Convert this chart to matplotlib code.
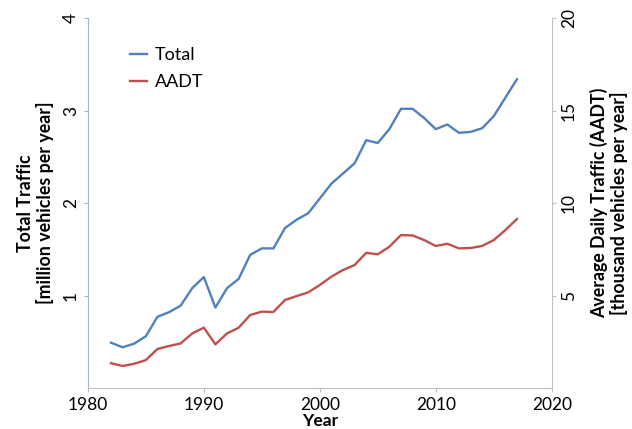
import matplotlib
matplotlib.use('Agg')
import matplotlib.pyplot as plt

# yearly series, 1982-2017
years = list(range(1982, 2018))
total_traffic = [0.49, 0.44, 0.48, 0.56, 0.77, 0.82, 0.89, 1.08, 1.20, 0.87,
                 1.08, 1.18, 1.44, 1.51, 1.51, 1.73, 1.82, 1.89, 2.05, 2.21,
                 2.32, 2.43, 2.68, 2.65, 2.80, 3.02, 3.02, 2.92, 2.80, 2.85,
                 2.76, 2.77, 2.81, 2.94, 3.14, 3.34]   # million vehicles / year
aadt = [1.34, 1.19, 1.31, 1.51, 2.11, 2.27, 2.41, 2.95, 3.26, 2.36,
        2.95, 3.26, 3.95, 4.13, 4.11, 4.76, 4.97, 5.17, 5.57, 6.02,
        6.38, 6.65, 7.31, 7.23, 7.64, 8.27, 8.25, 8.00, 7.68, 7.80,
        7.55, 7.57, 7.68, 8.00, 8.54, 9.14]            # thousand vehicles / day

BLUE = '#4f81bd'
RED = '#c0504d'
GREY = '#bfbfbf'
LIGHTBLUE = '#9db6d4'

plt.rcParams['font.family'] = ['Lato', 'DejaVu Sans']

fig = plt.figure(figsize=(6.32, 4.29), dpi=100)
ax = fig.add_axes([0.139, 0.0956, 0.734, 0.862])
ax2 = ax.twinx()

l1, = ax.plot(years, total_traffic, color=BLUE, lw=1.7, label='Total')
l2, = ax2.plot(years, aadt, color=RED, lw=1.7, label='AADT')

ax.set_xlim(1980, 2020)
ax.set_ylim(0, 4)
ax2.set_ylim(0, 20)
ax.set_xticks([1980, 1990, 2000, 2010, 2020])
ax.set_yticks([1, 2, 3, 4])
ax2.set_yticks([5, 10, 15, 20])

for a in (ax, ax2):
    a.spines['top'].set_visible(False)
    a.tick_params(labelsize=12.5, length=3, width=0.8, color=GREY)
ax.spines['left'].set_color(LIGHTBLUE)
ax.spines['bottom'].set_color(GREY)
ax.spines['right'].set_visible(False)
ax2.spines['left'].set_visible(False)
ax2.spines['bottom'].set_visible(False)
ax2.spines['right'].set_color(GREY)
ax.tick_params(axis='y', color=LIGHTBLUE)

for t in ax.get_yticklabels() + ax2.get_yticklabels():
    t.set_rotation(90)
    t.set_va('center')

ax.set_xlabel('Year', fontsize=12.5, fontweight='bold', labelpad=0)
ax.set_ylabel('Total Traffic\n[million vehicles per year]', fontsize=12.8,
              fontweight='bold', linespacing=1.15)
ax.yaxis.set_label_coords(-0.072, 0.5)
ax2.set_ylabel('Average Daily Traffic (AADT)\n[thousand vehicles per year]',
               fontsize=12.8, fontweight='bold', rotation=90, linespacing=1.15)
ax2.yaxis.set_label_coords(1.082, 0.5)

ax.legend(handles=[l1, l2], loc='upper left', bbox_to_anchor=(0.055, 0.965),
          frameon=False, fontsize=13, handlelength=0.95, handletextpad=0.45,
          labelspacing=0.6)

fig.savefig('out.png', dpi=100)
